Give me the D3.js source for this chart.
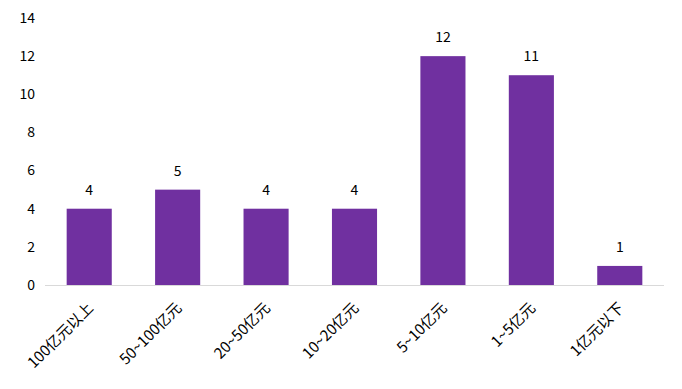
<!DOCTYPE html>
<html><head><meta charset="utf-8">
<script src="https://cdn.jsdelivr.net/npm/d3@7"></script>
<style>body{margin:0;background:#fff}</style>
</head><body>
<svg id="c" width="682" height="389"></svg>
<script>
const categories = ["100亿元以上","50~100亿元","20~50亿元","10~20亿元","5~10亿元","1~5亿元","1亿元以下"];
const values = [4,5,4,4,12,11,1];
const yTicks = [0,2,4,6,8,10,12,14];

(function(){
const svg = d3.select("#c");
const font = "'Noto Sans CJK SC', 'Noto Sans', sans-serif";
const mLeft = 45, mRight = 664, mTop = 18, mBottom = 285;
const x = d3.scaleBand().domain(categories).range([mLeft, mRight]).paddingInner(0.49).paddingOuter(0.245);
const y = d3.scaleLinear().domain([0,14]).range([mBottom, mTop]);

svg.append("g").selectAll("text").data(yTicks).join("text")
  .attr("x", 35).attr("y", d => y(d)).attr("dy", "0.35em")
  .attr("text-anchor", "end").attr("font-family", font).attr("font-size", 14).attr("fill", "#000")
  .text(d => d);

svg.append("g").selectAll("rect").data(values).join("rect")
  .attr("x", (d,i) => x(categories[i])).attr("width", x.bandwidth())
  .attr("y", d => y(d)).attr("height", d => y(0) - y(d))
  .attr("fill", "#7030A0");

svg.append("line").attr("x1", mLeft).attr("x2", mRight).attr("y1", mBottom + 0.5).attr("y2", mBottom + 0.5)
  .attr("stroke", "#d9d9d9").attr("stroke-width", 1);

svg.append("g").selectAll("text").data(values).join("text")
  .attr("x", (d,i) => x(categories[i]) + x.bandwidth()/2).attr("y", d => y(d) - 14)
  .attr("text-anchor", "middle").attr("font-family", font).attr("font-size", 14).attr("fill", "#000")
  .text(d => d);

svg.append("g").selectAll("text").data(categories).join("text")
  .attr("transform", d => `translate(${x(d) + x.bandwidth()/2 + 5},${mBottom + 24}) rotate(-45)`)
  .attr("text-anchor", "end").attr("font-family", font).attr("font-size", 15).attr("fill", "#000")
  .text(d => d);
})();
</script>
</body></html>
